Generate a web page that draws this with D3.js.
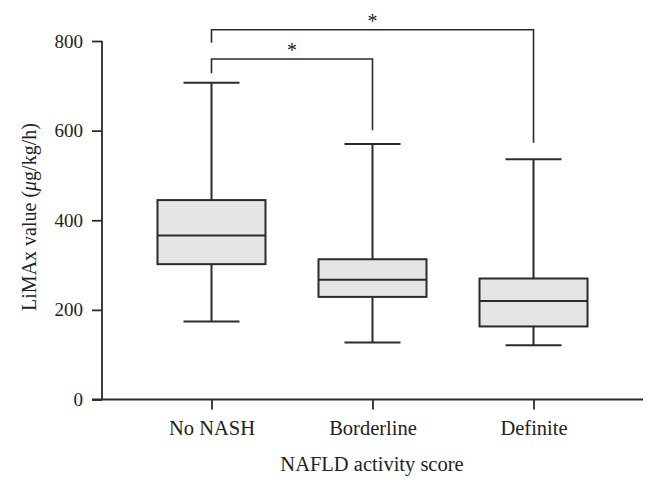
<!DOCTYPE html>
<html>
<head>
<meta charset="utf-8">
<script src="https://cdn.jsdelivr.net/npm/d3@7"></script>
<style>
  body { margin: 0; background: #fff; }
  text { font-family: "Liberation Serif", "DejaVu Serif", serif; fill: #222; }
</style>
</head>
<body>
<svg id="chart" width="658" height="486"></svg>
<script>
(() => {
    // box plot values
    const categories = ["No NASH", "Borderline", "Definite"];
    const whiskerLow  = [174, 127, 121];
    const q1          = [302, 229, 163];
    const median      = [366, 267, 220];
    const q3          = [445, 313, 270];
    const whiskerHigh = [707, 570, 536];
    const yTicks = [0, 200, 400, 600, 800];

    // significance brackets: from, to, bracket level, left leg end, right leg end
    const brackets = [
        { from: "No NASH", to: "Definite", level: 825, leftEnd: 796, rightEnd: 573, label: "*" },
        { from: "No NASH", to: "Borderline", level: 760, leftEnd: 728, rightEnd: 601, label: "*" }
    ];

    const boxes = categories.map((c, i) => ({
        cat: c, lo: whiskerLow[i], q1: q1[i], med: median[i], q3: q3[i], hi: whiskerHigh[i]
    }));

    const svg = d3.select("#chart");
    const ink = "#2b2b2b";

    const x = d3.scalePoint().domain(categories).range([102, 643]).padding(0.68);
    const y = d3.scaleLinear().domain([0, 800]).range([399.5, 41]);

    const boxW = 108, capW = 56;

    // axes
    const yAxis = svg.append("g")
        .attr("transform", "translate(102,0)")
        .call(d3.axisLeft(y).tickValues(yTicks).tickSize(10).tickPadding(9));
    yAxis.select(".domain").attr("d", `M0,${y(800)}V${y(0)}`);
    yAxis.selectAll(".tick text").attr("font-size", 19);

    const xAxis = svg.append("g")
        .attr("transform", `translate(0,${y(0)})`)
        .call(d3.axisBottom(x).tickSize(10).tickPadding(11));
    xAxis.select(".domain").attr("d", "M92,0H643");
    xAxis.selectAll(".tick text").attr("font-size", 20.5);

    svg.selectAll(".tick line, .domain").attr("stroke", ink).attr("stroke-width", 1.8);
    svg.selectAll(".tick text").attr("fill", "#222")
        .attr("font-family", "Liberation Serif, serif");

    // boxes
    const g = svg.append("g");
    const b = g.selectAll(".box").data(boxes).join("g").attr("class", "box");

    b.append("line")
        .attr("x1", d => x(d.cat)).attr("x2", d => x(d.cat))
        .attr("y1", d => y(d.hi)).attr("y2", d => y(d.q3));
    b.append("line")
        .attr("x1", d => x(d.cat)).attr("x2", d => x(d.cat))
        .attr("y1", d => y(d.q1)).attr("y2", d => y(d.lo));
    b.append("line")
        .attr("x1", d => x(d.cat) - capW / 2).attr("x2", d => x(d.cat) + capW / 2)
        .attr("y1", d => y(d.hi)).attr("y2", d => y(d.hi));
    b.append("line")
        .attr("x1", d => x(d.cat) - capW / 2).attr("x2", d => x(d.cat) + capW / 2)
        .attr("y1", d => y(d.lo)).attr("y2", d => y(d.lo));
    b.append("rect")
        .attr("x", d => x(d.cat) - boxW / 2)
        .attr("width", boxW)
        .attr("y", d => y(d.q3))
        .attr("height", d => y(d.q1) - y(d.q3))
        .attr("fill", "#e3e6e4");
    b.append("line")
        .attr("x1", d => x(d.cat) - boxW / 2).attr("x2", d => x(d.cat) + boxW / 2)
        .attr("y1", d => y(d.med)).attr("y2", d => y(d.med));
    b.selectAll("line, rect").attr("stroke", ink).attr("stroke-width", 2);

    // significance brackets
    const br = svg.append("g").selectAll("g").data(brackets).join("g");
    br.append("path")
        .attr("d", d => `M${x(d.from)},${y(d.leftEnd)}V${y(d.level)}H${x(d.to)}V${y(d.rightEnd)}`)
        .attr("fill", "none").attr("stroke", ink).attr("stroke-width", 1.6);
    br.append("text")
        .attr("x", d => (x(d.from) + x(d.to)) / 2)
        .attr("y", d => y(d.level) - 2)
        .attr("text-anchor", "middle")
        .attr("font-size", 20)
        .attr("fill", "#444")
        .text(d => d.label);

    // axis titles
    svg.append("text")
        .attr("x", 372).attr("y", 471)
        .attr("text-anchor", "middle")
        .attr("font-size", 20.5)
        .text("NAFLD activity score");

    const yt = svg.append("text")
        .attr("transform", "translate(36,217) rotate(-90)")
        .attr("text-anchor", "middle")
        .attr("font-size", 20);
    yt.append("tspan").text("LiMAx value (");
    yt.append("tspan").attr("font-style", "italic").text("μ");
    yt.append("tspan").text("g/kg/h)");
})();
</script>
</body>
</html>
